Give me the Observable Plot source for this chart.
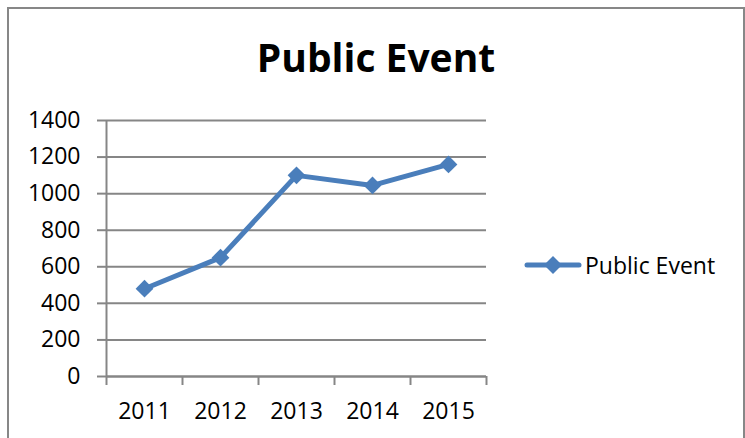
<!DOCTYPE html>
<html>
<head>
<meta charset="utf-8">
<script src="https://cdn.jsdelivr.net/npm/d3@7"></script>
<script src="https://cdn.jsdelivr.net/npm/@observablehq/plot@0.6"></script>
<style>
  html, body { margin: 0; padding: 0; background: #fff; overflow: hidden; width: 745px; height: 438px; }
  #wrap { position: relative; width: 745px; height: 438px; font-family: "Open Sans", sans-serif; color: #000; }
  #border { position: absolute; left: 7px; top: 7px; width: 734px; height: 470px; border: 2px solid #878787; }
  #title { position: absolute; left: 7px; width: 738px; top: 37px; text-align: center; font-weight: 700; font-size: 39px; line-height: 39px; margin: 0; }
  #chart { position: absolute; left: 0; top: 0; }
  #legend { position: absolute; left: 524px; top: 254px; height: 22px; display: flex; align-items: center; font-size: 23px; line-height: 22px; }
  #legend svg { display: block; }
  #legend span { margin-left: 3px; }
</style>
</head>
<body>
<div id="wrap">
  <div id="border"></div>
  <div id="chart"></div>
  <div id="title"></div>
  <div id="legend"></div>
</div>
<script>
const seriesName = "Public Event";
const years = [2011, 2012, 2013, 2014, 2015];
const values = [480, 650, 1100, 1045, 1160];
const yTicks = [0, 200, 400, 600, 800, 1000, 1200, 1400];
const lineColor = "#4a7ebb";
const axisColor = "#868686";

const data = years.map((year, i) => ({ year, value: values[i] }));
const edges = years.map(y => y - 0.5).concat([years[years.length - 1] + 0.5]);

const chart = Plot.plot({
  width: 745,
  height: 438,
  marginLeft: 106,
  marginRight: 259,
  marginTop: 120,
  marginBottom: 62,
  style: { fontFamily: "Open Sans, sans-serif", fontSize: "23px", color: "#000", background: "transparent", overflow: "visible" },
  x: { type: "linear", domain: [edges[0], edges[edges.length - 1]] },
  y: { domain: [0, 1400] },
  marks: [
    Plot.gridY(yTicks, { stroke: axisColor, strokeOpacity: 1, strokeWidth: 2 }),
    Plot.axisY(yTicks, { tickSize: 9, tickPadding: 17, stroke: axisColor, strokeWidth: 2, label: null, tickFormat: d3.format("d") }),
    Plot.axisX(edges, { tickSize: 9, tickPadding: 0, stroke: axisColor, strokeWidth: 2, label: null, tickFormat: () => "" }),
    Plot.axisX(years, { tickSize: 0, tickPadding: 26, label: null, tickFormat: d3.format("d") }),
    Plot.ruleX([edges[0]], { stroke: axisColor, strokeWidth: 2 }),
    Plot.ruleY([0], { stroke: axisColor, strokeWidth: 2 }),
    Plot.line(data, { x: "year", y: "value", stroke: lineColor, strokeWidth: 5, strokeLinejoin: "round" }),
    Plot.dot(data, { x: "year", y: "value", symbol: "diamond2", r: 8, fill: lineColor, stroke: "none" })
  ]
});
document.getElementById("chart").appendChild(chart);
document.getElementById("title").textContent = seriesName;

const legend = document.getElementById("legend");
legend.innerHTML =
  '<svg width="58" height="22" viewBox="0 0 58 22">' +
  '<line x1="3" y1="11" x2="55" y2="11" stroke="' + lineColor + '" stroke-width="5" stroke-linecap="round"/>' +
  '<path d="M29,2 L38,11 L29,20 L20,11 Z" fill="' + lineColor + '"/>' +
  '</svg><span></span>';
legend.querySelector("span").textContent = seriesName;
</script>
</body>
</html>
